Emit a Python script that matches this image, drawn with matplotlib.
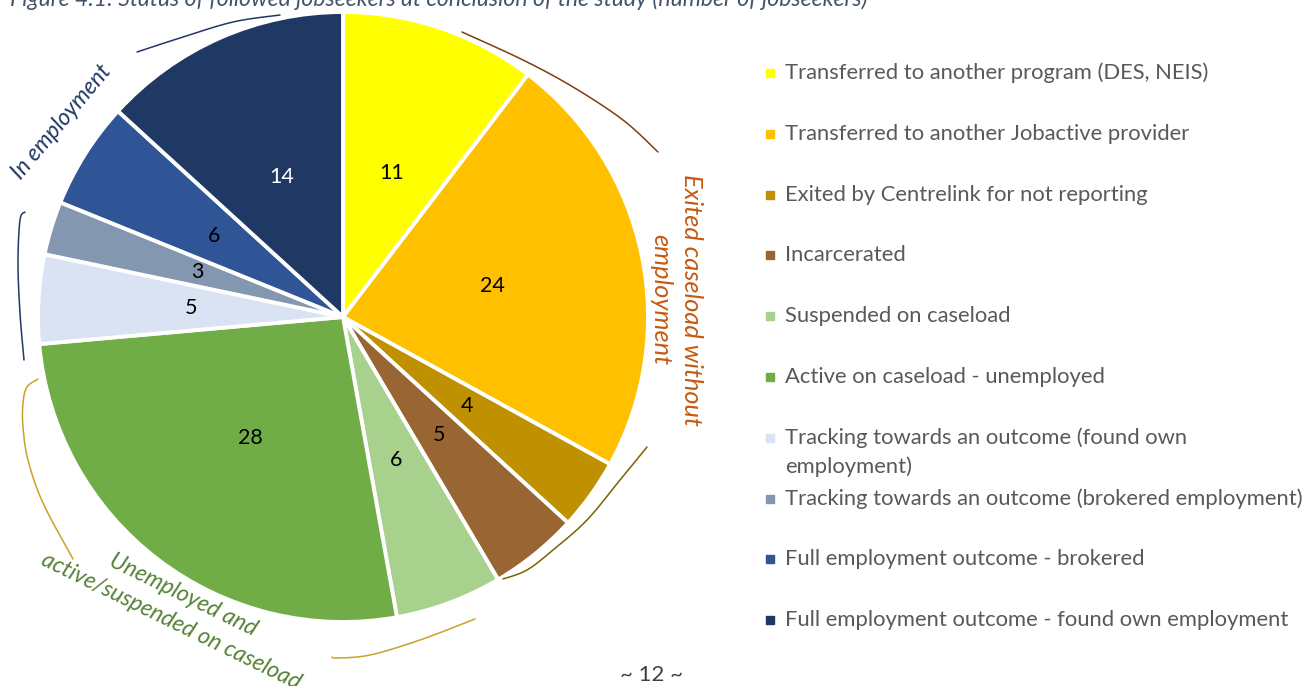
"""Pie chart: status of followed jobseekers at conclusion of the study"""

import matplotlib

matplotlib.use("Agg")
import matplotlib.pyplot as plt
import numpy as np

categories = [
    "Transferred to another program (DES, NEIS)",
    "Transferred to another Jobactive provider",
    "Exited by Centrelink for not reporting",
    "Incarcerated",
    "Suspended on caseload",
    "Active on caseload - unemployed",
    "Tracking towards an outcome (found own\nemployment)",
    "Tracking towards an outcome (brokered employment)",
    "Full employment outcome - brokered",
    "Full employment outcome - found own employment",
]
values = [11, 24, 4, 5, 6, 28, 5, 3, 6, 14]
colors = [
    "#ffff00", "#ffc000", "#bf9000", "#996633", "#a9d18e",
    "#70ad47", "#dae3f3", "#8497b0", "#2f5597", "#203864",
]
label_colors = ["black"] * 9 + ["white"]

title = "Figure 4.1: Status of followed jobseekers at conclusion of the study (number of jobseekers)"
group_labels = [
    "In employment",
    "Exited caseload without\nemployment",
    "Unemployed and\nactive/suspended on caseload",
]

W, H = 1309, 686
plt.rcParams["font.family"] = ["Lato", "DejaVu Sans"]

fig = plt.figure(figsize=(W / 100, H / 100), dpi=100)

# pie axes placed in pixels: centre (343, 317), radius 305
cx, cy, r = 343, 317, 305
ax = fig.add_axes([(cx - r) / W, (H - cy - r) / H, 2 * r / W, 2 * r / H])
total = sum(values)
wedges, _, autotexts = ax.pie(
    values,
    colors=colors,
    startangle=90,
    counterclock=False,
    autopct=lambda p: "%d" % round(p * total / 100),
    pctdistance=0.5,
    wedgeprops=dict(edgecolor="white", linewidth=2.8),
    textprops=dict(fontsize=15.5),
)
for t, c in zip(autotexts, label_colors):
    t.set_color(c)
ax.set_xlim(-1, 1)
ax.set_ylim(-1, 1)

# overlay in pixel coordinates for the brackets, group labels and legend
ov = fig.add_axes([0, 0, 1, 1])
ov.set_xlim(0, W)
ov.set_ylim(H, 0)
ov.axis("off")
ov.patch.set_alpha(0)


def curve(points, color):
    """Catmull-Rom curve through the given pixel points"""
    p = np.array(points, dtype=float)
    p = np.vstack([p[0], p, p[-1]])
    out = []
    t = np.linspace(0, 1, 20)[:, None]
    for i in range(1, len(p) - 2):
        p0, p1, p2, p3 = p[i - 1], p[i], p[i + 1], p[i + 2]
        seg = 0.5 * ((2 * p1) + (-p0 + p2) * t + (2 * p0 - 5 * p1 + 4 * p2 - p3) * t**2
                     + (-p0 + 3 * p1 - 3 * p2 + p3) * t**3)
        out.append(seg)
    out = np.vstack(out)
    ov.plot(out[:, 0], out[:, 1], color=color, lw=1.1, solid_capstyle="round")


# brackets
curve([(137, 52), (180, 38), (233, 22), (280, 15)], "#203864")
curve([(25, 212), (20, 220), (18, 263), (20, 313), (24, 360)], "#203864")
curve([(462, 32), (523, 60), (573, 87), (623, 120), (658, 152)], "#843c0c")
curve([(647, 447), (620, 480), (587, 520), (553, 550), (527, 570), (503, 579)], "#7f6000")
curve([(38, 379), (27, 387), (23, 403), (23, 427), (28, 460), (43, 503), (73, 559)], "#c9a227")
curve([(332, 657), (337, 658), (370, 655), (420, 640), (475, 619)], "#c9a227")

# group labels
grp = dict(style="italic", ha="center", va="center", multialignment="center")
ov.text(62, 122, group_labels[0], rotation=50, color="#203864", fontsize=16.5, **grp)
ov.text(676, 300, group_labels[1], rotation=-90, color="#c55a11", fontsize=18.3,
        linespacing=1.4, **grp)
ov.text(177, 608, group_labels[2], rotation=-26, color="#548235", fontsize=16.5,
        linespacing=1.45, rotation_mode="anchor", **grp)

# legend
row0, step, line_gap = 73, 60.8, 29
for i, (lab, c) in enumerate(zip(categories, colors)):
    y = row0 + i * step
    ov.plot(770, y, marker="s", ms=6, color=c, linestyle="none")
    for k, part in enumerate(lab.split("\n")):
        ov.text(785, y + 6 + k * line_gap, part, fontsize=15.8, color="#595959",
                va="baseline", ha="left")

# title (cut off at top of page) and page number
ov.text(10, 6, title, fontsize=16.6, style="italic", color="#44546a",
        va="baseline", ha="left")
ov.text(652, 681, "~ 12 ~", fontsize=16, color="#404040", va="baseline", ha="center")

fig.savefig("out.png", dpi=100)
